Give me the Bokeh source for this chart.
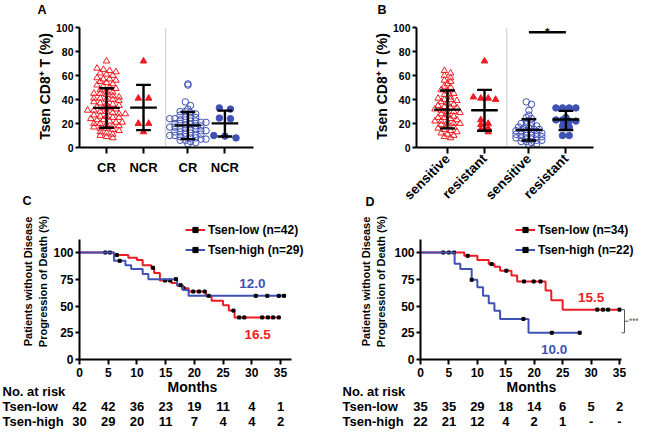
import math
from bokeh.plotting import figure
from bokeh.models import (Range1d, FixedTicker, Label, LabelSet, LinearAxis,
                          ColumnDataSource, Legend, LegendItem, Arrow)
from bokeh.layouts import row, column
from bokeh.core.properties import value
from bokeh.embed import file_html
from bokeh.resources import INLINE

FONT = "Liberation Sans"
RED = "#F01B22"
BLUE = "#3F51B5"

# ---------------- Panel A data ----------------
A_labels = ["CR", "NCR", "CR", "NCR"]
A_red_CR = [72, 66, 65, 64, 63, 62, 61, 60, 58, 57, 57, 56, 55, 54, 53, 52, 51, 50, 49, 48,
            47, 46, 45, 45, 44, 43, 42, 41, 41, 40, 40, 39, 38, 37, 36, 36, 35, 34, 33, 33,
            32, 31, 31, 30, 30, 29, 28, 28, 27, 26, 26, 25, 25, 24, 23, 23, 22, 21, 21, 20,
            20, 19, 18, 18, 17, 16, 16, 15, 14, 13, 12, 11, 10, 9, 8]
A_red_NCR = [72, 41, 41, 20, 20, 13]
A_blue_CR = [53, 52, 38, 35, 32, 30, 30, 29, 28, 27, 26, 25, 25, 24, 24, 23, 23, 22, 22, 21,
             21, 20, 20, 19, 19, 18, 18, 17, 17, 16, 16, 15, 15, 14, 14, 13, 13, 12, 12, 11,
             11, 10, 10, 9, 9, 8, 8, 7, 7, 6, 6, 5, 4, 3]
A_blue_NCR = [33, 32, 24.5, 24, 8, 9.5, 10]
A_mean = [33.0, 33.2, 18.4, 20.1]
A_lower = [16.5, 14.5, 7.0, 9.2]
A_upper = [49.4, 52.2, 29.6, 30.7]

# ---------------- Panel B data ----------------
B_labels = ["sensitive", "resistant", "sensitive", "resistant"]
B_red_sens = [64, 62, 60, 58, 56, 55, 53, 51, 50, 48, 47, 45, 44, 42, 41, 40, 40, 39, 38, 37,
              36, 35, 34, 33, 33, 32, 31, 30, 30, 29, 28, 27, 26, 25, 25, 24, 23, 22, 22, 21,
              20, 20, 19, 18, 17, 16, 15, 14, 13, 12, 11, 10, 9, 8]
B_red_res = [72, 42, 41, 41, 40, 23, 20, 19, 16, 15, 13]
B_blue_sens = [38, 36, 31, 27, 25, 24, 22, 21, 20, 19, 18, 18, 17, 16, 16, 15, 15, 14, 14, 13,
               13, 12, 12, 11, 11, 10, 10, 9, 9, 8, 8, 7, 7, 6, 6, 5, 5, 4, 3, 2]
B_blue_res = [33, 33, 33, 33, 25, 23, 23, 22, 22, 18, 17, 10, 10]
B_mean = [31.6, 31.0, 14.7, 23.3]
B_lower = [15.9, 14.0, 5.8, 14.6]
B_upper = [47.5, 48.0, 23.6, 30.5]
B_sig_y = 96
B_sig_text = "*"

# ---------------- Panel C data ----------------
C_low_t = [0, 6, 8.5, 10, 11, 12.5, 13, 14, 16, 17, 18, 19, 22, 23, 25, 26, 27, 35]
C_low_s = [100, 97.6, 95.2, 92.9, 88.1, 85.7, 80.9, 73.8, 71.4, 69.0, 66.7, 63.5, 59.4, 55.0,
           50.6, 45.7, 39.3, 39.3]
C_high_t = [0, 6, 8, 9, 11, 12, 17, 18, 19, 36]
C_high_s = [100, 92.2, 88.2, 84.5, 79.8, 75.1, 69.5, 65.0, 59.5, 59.5]
C_low_cens = [4.5, 5.3, 6.5, 12.8, 14.9, 15.8, 18.1, 19.8, 20.8, 21.8, 26.8, 27.8, 28.7,
              31.8, 32.8, 33.7, 34.7]
C_high_cens = [7.0, 16.8, 17.6, 22.5, 30.7, 32.7, 34.7, 35.6]
C_names = ["Tsen-low (n=42)", "Tsen-high (n=29)"]
C_median = ["16.5", "12.0"]

# ---------------- Panel D data ----------------
D_low_t = [0, 7.7, 10, 12, 13, 14, 16, 17, 22, 23, 25, 35]
D_low_s = [100, 96.9, 92.9, 89.2, 86.7, 83.0, 78.4, 72.9, 64.5, 55.3, 46.6, 46.6]
D_high_t = [0, 6, 7, 9, 10, 11, 12, 13, 14, 19, 28]
D_high_s = [100, 89.5, 84.5, 74.5, 67.6, 59.5, 52.5, 45.5, 37.9, 25.0, 25.0]
D_low_cens = [4.0, 5.0, 5.9, 8.3, 12.5, 15.1, 18.2, 19.9, 21.1, 31.1, 32.1, 33.0, 35.0]
D_high_cens = [9.0, 18.1, 23.1, 28.0]
D_names = ["Tsen-low (n=34)", "Tsen-high (n=22)"]
D_median = ["15.5", "10.0"]
D_sig_text = "***"

# ---------------- Risk tables ----------------
risk_months = [0, 5, 10, 15, 20, 25, 30, 35]
C_risk_low = ["42", "42", "36", "23", "19", "11", "4", "1"]
C_risk_high = ["30", "29", "20", "11", "7", "4", "4", "2"]
D_risk_low = ["35", "35", "29", "18", "14", "6", "5", "2"]
D_risk_high = ["22", "21", "12", "4", "2", "1", "-", "-"]

POS = [1, 2, 3.2, 4.2]   # layout positions of the four columns


class Map:
    """pixel -> data mapping for one figure whose frame fills the whole figure"""
    def __init__(self, ox, oy, w, h, FL, FB, x_at_FL, kx, ky):
        self.ox, self.oy, self.w, self.h = ox, oy, w, h
        self.FL, self.FB, self.x0, self.kx, self.ky = FL, FB, x_at_FL, kx, ky

    def X(self, px):
        return self.x0 + (px - self.FL) / self.kx

    def Y(self, py):
        return (self.FB - py) / self.ky


def base_fig(m):
    p = figure(frame_width=m.w, frame_height=m.h, min_border=0,
               x_range=Range1d(m.X(m.ox), m.X(m.ox + m.w)),
               y_range=Range1d(m.Y(m.oy + m.h), m.Y(m.oy)),
               x_axis_location=None, y_axis_location=None,
               output_backend="svg", toolbar_location=None)
    p.outline_line_color = None
    p.background_fill_color = "white"
    p.border_fill_color = "white"
    for g in p.xgrid + p.ygrid:
        g.visible = False
    return p


def make_axis(tick_size, **kw):
    ax = LinearAxis(**kw)
    ax.axis_line_width = 2
    ax.axis_line_color = "black"
    ax.major_tick_line_width = 2
    ax.major_tick_line_color = "black"
    ax.major_tick_in = 0
    ax.minor_tick_line_color = None
    ax.major_label_text_font = FONT
    ax.major_label_text_font_style = "bold"
    ax.major_label_text_color = "black"
    ax.major_label_text_font_size = tick_size
    return ax


def lab(p, x, y, text, size, color="black", align="left", angle=0.0, baseline="middle"):
    p.add_layout(Label(x=x, y=y, text=text, text_font=FONT, text_font_style="bold",
                       text_font_size=size, text_color=color, text_align=align,
                       text_baseline=baseline, angle=angle))


def swarm(vals, center, bw, step):
    bins = {}
    for v in sorted(vals, reverse=True):
        bins.setdefault(int(v // bw), []).append(v)
    xs, ys = [], []
    for vs in bins.values():
        k = len(vs)
        for i, v in enumerate(vs):
            xs.append(center + (i - (k - 1) / 2) * step)
            ys.append(v)
    return xs, ys


def dot_fig(m, x_right_px, labels, rotate):
    p = base_fig(m)
    x_lo, x_hi = m.X(m.FL), m.X(x_right_px)
    xa = make_axis("13.5px" if rotate else "13px", fixed_location=0, bounds=(x_lo, x_hi),
                   ticker=FixedTicker(ticks=POS))
    xa.major_tick_out = 6
    xa.major_label_overrides = {k: v for k, v in zip(POS, labels)}
    if rotate:
        xa.major_label_orientation = math.pi / 4
        xa.major_label_standoff = 3
    else:
        xa.major_label_standoff = 6
    p.add_layout(xa, "below")
    ya = make_axis("10.5px", fixed_location=x_lo, bounds=(0, 100),
                   ticker=FixedTicker(ticks=[0, 20, 40, 60, 80, 100]))
    ya.major_tick_out = 4
    ya.major_label_standoff = 2
    p.add_layout(ya, "left")
    # dotted separator between the two halves
    p.segment([2.6], [0], [2.6], [100], line_color="#9a9a9a", line_dash="1 1", line_width=1)
    return p


def draw_groups(p, groups, mean, lower, upper):
    for (vals, marker, filled, color, bw, step), pos in zip(groups, POS):
        xs, ys = swarm(vals, pos, bw, step)
        if filled:
            p.scatter(xs, ys, marker=marker, size=6.5, fill_color=color, line_color=color)
        else:
            p.scatter(xs, ys, marker=marker, size=6.5, fill_color=None, line_color=color,
                      line_width=1)
    x0, y0, x1, y1 = [], [], [], []
    for pos, mu, lo, up in zip(POS, mean, lower, upper):
        x0 += [pos - 0.36, pos - 0.2, pos - 0.2, pos]
        x1 += [pos + 0.36, pos + 0.2, pos + 0.2, pos]
        y0 += [mu, up, lo, lo]
        y1 += [mu, up, lo, up]
    p.segment(x0, y0, x1, y1, line_color="black", line_width=2.4)


# ---------------- Panel A ----------------
mA = Map(0, 0, 320, 212, 79, 147, 0.27, 37.0, 1.2)
pA = dot_fig(mA, 253, A_labels, False)
draw_groups(pA, [(A_red_CR, "triangle", False, RED, 3.5, 0.17),
                 (A_red_NCR, "triangle", True, RED, 4, 0.28),
                 (A_blue_CR, "circle", False, BLUE, 3.5, 0.14),
                 (A_blue_NCR, "circle", True, BLUE, 4, 0.3)],
            A_mean, A_lower, A_upper)
lab(pA, mA.X(37), mA.Y(9), "A", "12.5px")
lab(pA, mA.X(22), mA.Y(200), "C", "12.5px")
lab(pA, mA.X(44), mA.Y(86), "Tsen CD8\u207a T (%)", "14px", align="center",
    angle=math.pi / 2)

# ---------------- Panel B ----------------
mB = Map(320, 0, 318, 212, 416, 147, 0.162, 37.0, 1.2)
pB = dot_fig(mB, 593, B_labels, True)
draw_groups(pB, [(B_red_sens, "triangle", False, RED, 3.2, 0.17),
                 (B_red_res, "triangle", True, RED, 4, 0.2),
                 (B_blue_sens, "circle", False, BLUE, 3.0, 0.14),
                 (B_blue_res, "circle", True, BLUE, 4, 0.18)],
            B_mean, B_lower, B_upper)
pB.segment([POS[2]], [B_sig_y], [POS[3]], [B_sig_y], line_color="black", line_width=2.5)
lab(pB, (POS[2] + POS[3]) / 2, B_sig_y - 0.5, B_sig_text, "12px", align="center",
    baseline="alphabetic")
lab(pB, mB.X(377), mB.Y(9), "B", "12.5px")
lab(pB, mB.X(365), mB.Y(201), "D", "12.5px")
lab(pB, mB.X(381), mB.Y(86), "Tsen CD8\u207a T (%)", "14px", align="center",
    angle=math.pi / 2)


# ---------------- KM panels ----------------
def surv_at(ts, ss, t):
    s = ss[0]
    for ti, si in zip(ts, ss):
        if ti <= t:
            s = si
    return s


def km_fig(m, x_end):
    p = base_fig(m)
    xa = make_axis("12px", fixed_location=0, bounds=(0, x_end),
                   ticker=FixedTicker(ticks=[0, 5, 10, 15, 20, 25, 30, 35]))
    xa.major_tick_out = 5
    xa.major_label_standoff = 3
    p.add_layout(xa, "below")
    ya = make_axis("12px", fixed_location=0, bounds=(0, 112),
                   ticker=FixedTicker(ticks=[0, 25, 50, 75, 100]))
    ya.major_tick_out = 4
    ya.major_label_standoff = 2
    p.add_layout(ya, "left")
    return p


def km_draw(p, m, curves, names, legend_px):
    items = []
    for (ts, ss, cens, color), name in zip(curves, names):
        r1 = p.step(ts, ss, mode="after", line_color=color, line_width=2)
        cy = [surv_at(ts, ss, c) for c in cens]
        r2 = p.scatter(cens, cy, marker="square", size=3, fill_color="black",
                       line_color="black")
        items.append(LegendItem(label=name, renderers=[r1, r2]))
    vx = legend_px - m.ox
    vy = (m.oy + m.h) - 256.5
    leg = Legend(items=items, location=(vx, vy), padding=0, margin=0, spacing=6,
                 glyph_width=20, glyph_height=13, label_height=13, label_standoff=3,
                 border_line_alpha=0, background_fill_alpha=0,
                 label_text_font=FONT, label_text_font_style="bold",
                 label_text_font_size="12px", label_text_color="black")
    p.add_layout(leg)


def risk_table(p, m, left_px, months_px, low, high):
    xl = m.X(left_px)
    lab(p, xl, m.Y(391), "No. at risk", "13px")
    lab(p, xl, m.Y(406), "Tsen-low", "13px")
    lab(p, xl, m.Y(421), "Tsen-high", "13px")
    for vals, py in ((low, 406), (high, 421)):
        src = ColumnDataSource(dict(x=risk_months, y=[m.Y(py)] * len(risk_months), t=vals))
        p.add_layout(LabelSet(x="x", y="y", text="t", source=src, text_align="center",
                              text_baseline="middle", text_font=value(FONT),
                              text_font_style="bold", text_font_size="13px",
                              text_color="black"))
    lab(p, m.X(months_px), m.Y(386), "Months", "14px", align="center")


# Panel C
mC = Map(0, 212, 320, 220, 79, 359, 0.0, 201 / 35.0, 1.07)
pC = km_fig(mC, 37)
km_draw(pC, mC, [(C_low_t, C_low_s, C_low_cens, RED),
                 (C_high_t, C_high_s, C_high_cens, BLUE)], C_names, 185)
lab(pC, 31.0, 23.8, C_median[0], "13.5px", color=RED, align="center")
lab(pC, 30.1, 71.0, C_median[1], "13.5px", color=BLUE, align="center")
lab(pC, mC.X(27), mC.Y(281), "Patients without Disease", "11px", align="center",
    angle=math.pi / 2)
lab(pC, mC.X(42.5), mC.Y(281), "Progression of Death (%)", "11px", align="center",
    angle=math.pi / 2)
risk_table(pC, mC, 2, 192, C_risk_low, C_risk_high)

# Panel D
mD = Map(320, 212, 318, 220, 420, 359, 0.0, 199 / 35.0, 1.07)
pD = km_fig(mD, 35.35)
km_draw(pD, mD, [(D_low_t, D_low_s, D_low_cens, RED),
                 (D_high_t, D_high_s, D_high_cens, BLUE)], D_names, 515)
lab(pD, 30.0, 58.3, D_median[0], "13.5px", color=RED, align="center")
lab(pD, 23.5, 9.3, D_median[1], "13.5px", color=BLUE, align="center")
lab(pD, mD.X(365), mD.Y(281), "Patients without Disease", "11px", align="center",
    angle=math.pi / 2)
lab(pD, mD.X(380), mD.Y(281), "Progression of Death (%)", "11px", align="center",
    angle=math.pi / 2)
risk_table(pD, mD, 342, 531, D_risk_low, D_risk_high)

# bracket between the final levels of the two D curves
bx0, bx1, bx2 = mD.X(621), mD.X(624), mD.X(628)
top_s, bot_s = D_low_s[-1], D_high_s[-1]
mid_s = (top_s + bot_s) / 2
for (xa_, ya_, xb_, yb_) in [(bx0, top_s, bx1, top_s), (bx1, top_s, bx1, bot_s),
                             (bx0, bot_s, bx1, bot_s), (bx1, mid_s, bx2, mid_s)]:
    pD.add_layout(Arrow(end=None, x_start=xa_, y_start=ya_, x_end=xb_, y_end=yb_,
                        line_color="#555555", line_width=1))
pD.add_layout(Label(x=mD.X(628.5), y=mid_s, text=D_sig_text, text_font=FONT,
                    text_font_size="8.5px", text_color="#555555", text_align="left",
                    text_baseline="middle"))

layout = column(row(pA, pB), row(pC, pD))
open("out.html", "w").write(file_html(layout, INLINE, "chart"))
